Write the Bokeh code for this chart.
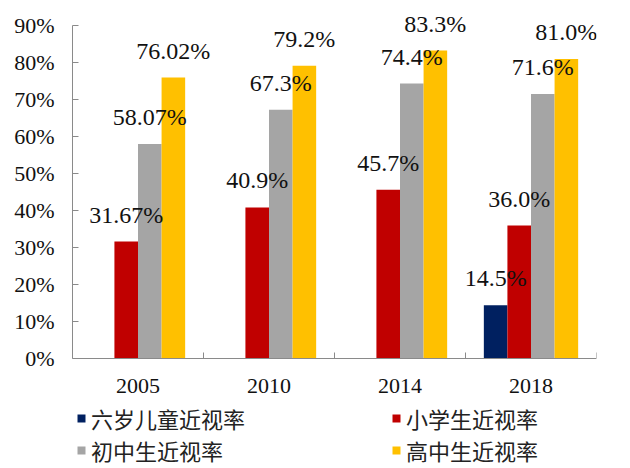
import numpy as np
from bokeh.plotting import figure
from bokeh.models import (ColumnDataSource, FixedTicker, PrintfTickFormatter, Range1d,
                          Legend, LegendItem)
from bokeh.core.properties import value
from bokeh.embed import file_html
from bokeh.resources import INLINE

years = ["2005", "2010", "2014", "2018"]
series_names = ["六岁儿童近视率", "小学生近视率", "初中生近视率", "高中生近视率"]
six_year_old = [np.nan, np.nan, np.nan, 14.5]
primary = [31.67, 40.9, 45.7, 36.0]
junior_high = [58.07, 67.3, 74.4, 71.6]
senior_high = [76.02, 79.2, 83.3, 81.0]
label_decimals = [2, 1, 1, 1]
y_ticks = [0, 10, 20, 30, 40, 50, 60, 70, 80, 90]

series = [six_year_old, primary, junior_high, senior_high]
colors = ["#002060", "#C00000", "#A5A5A5", "#FFC000"]
offsets = [-0.27, -0.09, 0.09, 0.27]
bar_w = 0.18

serif = "Liberation Serif"
cjk = "Noto Sans CJK SC"

centers = np.arange(len(years)) + 0.5

W, H = 630, 468
zero_px = 358.3          # pixel row of 0%
px_per_unit = 333 / 90   # pixels per percentage point
y_lo = -(H - zero_px) / px_per_unit
y_hi = zero_px / px_per_unit

p = figure(width=W, height=H, output_backend="svg", toolbar_location=None,
           x_range=Range1d(0, len(years)), y_range=Range1d(y_lo, y_hi),
           min_border_left=72, min_border_right=34, min_border_top=0, min_border_bottom=0)
p.outline_line_color = None
p.xgrid.visible = False
p.ygrid.visible = False
p.background_fill_color = "white"
p.border_fill_color = "white"

renderers = []
labels = []
for vals, col, off, name in zip(series, colors, offsets, series_names):
    xs = centers + off
    src = ColumnDataSource(dict(x=xs, top=vals))
    r = p.vbar(x="x", top="top", width=bar_w, bottom=0, source=src,
               fill_color=col, line_color=None)
    renderers.append((name, r))
    for x, v, d in zip(xs, vals, label_decimals):
        if v is not None and not np.isnan(v):
            labels.append((x, v, f"{v:.{d}f}%"))

p.text(x=[l[0] for l in labels], y=[l[1] for l in labels], text=[l[2] for l in labels],
       text_align="center", text_baseline="alphabetic", y_offset=-27,
       text_font=value(serif), text_font_size="24px", text_color="#111111")

# y axis
ya = p.yaxis[0]
ya.ticker = FixedTicker(ticks=y_ticks)
ya.formatter = PrintfTickFormatter(format="%d%%")
ya.bounds = (0, 90)
ya.major_tick_in = 6
ya.major_tick_out = 0
ya.minor_tick_line_color = None
ya.axis_line_color = "#8a8a8a"
ya.major_tick_line_color = "#8a8a8a"
ya.major_label_text_font = serif
ya.major_label_text_font_size = "22px"
ya.major_label_text_color = "#111111"
ya.major_label_standoff = 18

# x axis (drawn at y = 0 inside the frame)
xa = p.xaxis[0]
xa.fixed_location = 0
xa.ticker = FixedTicker(ticks=list(centers), minor_ticks=list(range(len(years) + 1)))
xa.major_label_overrides = {float(c): y for c, y in zip(centers, years)}
xa.major_tick_in = 0
xa.major_tick_out = 0
xa.major_tick_line_color = None
xa.minor_tick_in = 6
xa.minor_tick_out = 0
xa.minor_tick_line_color = "#8a8a8a"
xa.axis_line_color = "#8a8a8a"
xa.major_label_text_font = serif
xa.major_label_text_font_size = "22px"
xa.major_label_text_color = "#111111"
xa.major_label_standoff = 20

legend = Legend(items=[LegendItem(label=n, renderers=[r]) for n, r in renderers],
                orientation="horizontal", ncols=2, location=(4, 2),
                glyph_width=10, glyph_height=10, label_standoff=5, label_width=300,
                label_height=25, spacing=-6, padding=0, margin=0,
                border_line_color=None, background_fill_alpha=0,
                label_text_font=cjk, label_text_font_size="22px", label_text_color="#222222")
p.add_layout(legend, "center")

open("out.html", "w").write(file_html(p, INLINE))
